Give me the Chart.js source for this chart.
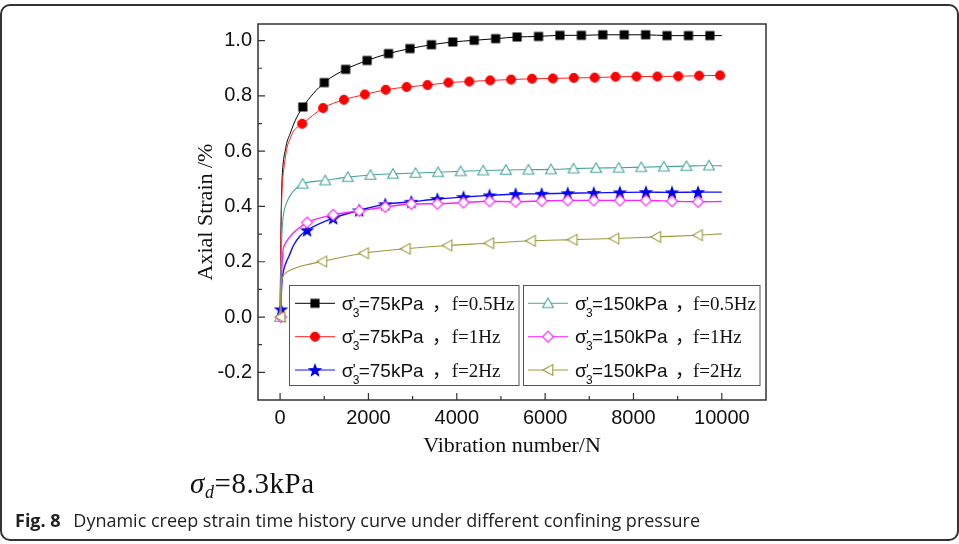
<!DOCTYPE html>
<html lang="en">
<head>
<meta charset="UTF-8">
<title>Dynamic creep strain time history</title>
<script src="https://cdn.jsdelivr.net/npm/chart.js@4"></script>
<style>
  body { margin: 0; background: #fff; }
  .figure { position: relative; width: 959px; height: 544px; overflow: hidden; }
  .frame {
    position: absolute; left: 0; top: 4px; width: 959px; height: 537px;
    box-sizing: border-box; border: 2px solid #333; border-radius: 10px;
  }
  #chart { position: absolute; left: 0; top: 0; }
  .sigma-d {
    position: absolute; left: 190px; top: 467px; white-space: nowrap;
    font-family: 'Liberation Serif', serif; font-size: 29px; line-height: 32px;
    letter-spacing: 0.6px; color: #111;
  }
  .sigma-d sub { font-size: 18px; vertical-align: -5px; }
  .caption {
    position: absolute; left: 15px; top: 509px; white-space: nowrap;
    font-family: 'Open Sans', sans-serif; font-size: 18px; line-height: 22px; color: #222;
  }
  .caption b { margin-right: 8px; }
</style>
</head>
<body>
<div class="figure">
  <div class="frame"></div>
  <canvas id="chart" width="959" height="544"></canvas>
  <div class="sigma-d"><i>σ</i><sub><i>d</i></sub>=8.3kPa</div>
  <div class="caption"><b>Fig. 8</b> Dynamic creep strain time history curve under different confining pressure</div>
</div>
<script>
// axis ticks
const xTicks = [0, 2000, 4000, 6000, 8000, 10000];
const xMinorTicks = [1000, 3000, 5000, 7000, 9000];
const yTicks = [-0.2, 0, 0.2, 0.4, 0.6, 0.8, 1.0];
const yMinorTicks = [-0.1, 0.1, 0.3, 0.5, 0.7, 0.9];

// sigma'3 = 75 kPa, f = 0.5 Hz
const blackCurveN = [0, 15, 30, 45, 60, 80, 113, 160, 227, 300, 380, 10000];
const blackCurveV = [0, 0.25, 0.42, 0.50, 0.54, 0.57, 0.60, 0.635, 0.663, 0.695, 0.723, 1.018];
const blackMarkN = [515, 1000, 1485, 1970, 2455, 2940, 3425, 3910, 4395, 4880, 5365, 5850, 6335, 6820, 7305, 7790, 8275, 8760, 9245, 9730];
const blackMarkV = [0.760, 0.848, 0.896, 0.928, 0.953, 0.971, 0.985, 0.995, 1.001, 1.007, 1.013, 1.015, 1.019, 1.019, 1.021, 1.021, 1.021, 1.018, 1.018, 1.018];

// sigma'3 = 75 kPa, f = 1 Hz
const redCurveN = [0, 15, 30, 45, 60, 80, 113, 152, 227, 302, 400, 10000];
const redCurveV = [0, 0.22, 0.38, 0.46, 0.50, 0.53, 0.57, 0.61, 0.645, 0.672, 0.688, 0.874];
const redMarkN = [499, 972, 1445, 1918, 2391, 2864, 3337, 3810, 4283, 4756, 5229, 5702, 6175, 6648, 7121, 7594, 8067, 8540, 9013, 9486, 9959];
const redMarkV = [0.699, 0.756, 0.786, 0.805, 0.822, 0.832, 0.839, 0.848, 0.852, 0.856, 0.859, 0.862, 0.863, 0.865, 0.866, 0.869, 0.870, 0.870, 0.871, 0.873, 0.874];

// sigma'3 = 75 kPa, f = 2 Hz
const blueCurveN = [30, 50, 80, 130, 200, 300, 450, 10000];
const blueCurveV = [0.09, 0.14, 0.17, 0.195, 0.22, 0.258, 0.293, 0.452];
const blueMarkN = [22, 612, 1202, 1792, 2382, 2972, 3562, 4152, 4742, 5332, 5922, 6512, 7102, 7692, 8282, 8872, 9462];
const blueMarkV = [0.028, 0.314, 0.358, 0.386, 0.408, 0.417, 0.427, 0.434, 0.440, 0.445, 0.446, 0.448, 0.449, 0.451, 0.452, 0.451, 0.452];

// sigma'3 = 150 kPa, f = 0.5 Hz
const tealCurveN = [15, 38, 61, 100, 152, 230, 330, 420, 10000];
const tealCurveV = [0.15, 0.29, 0.35, 0.39, 0.415, 0.44, 0.46, 0.472, 0.547];
const tealMarkN = [0, 511, 1022, 1533, 2044, 2555, 3066, 3577, 4088, 4599, 5110, 5621, 6132, 6643, 7154, 7665, 8176, 8687, 9198, 9709];
const tealMarkV = [0, 0.482, 0.494, 0.506, 0.514, 0.518, 0.521, 0.524, 0.527, 0.530, 0.532, 0.533, 0.534, 0.537, 0.539, 0.540, 0.542, 0.544, 0.546, 0.548];

// sigma'3 = 150 kPa, f = 1 Hz
const pinkCurveN = [30, 45, 65, 100, 152, 220, 302, 450, 10000];
const pinkCurveV = [0.12, 0.19, 0.24, 0.26, 0.275, 0.29, 0.305, 0.325, 0.418];
const pinkMarkN = [22, 612, 1202, 1792, 2382, 2972, 3562, 4152, 4742, 5332, 5922, 6512, 7102, 7692, 8282, 8872, 9462];
const pinkMarkV = [0, 0.342, 0.370, 0.384, 0.398, 0.409, 0.410, 0.414, 0.419, 0.417, 0.420, 0.422, 0.422, 0.422, 0.422, 0.419, 0.417];

// sigma'3 = 150 kPa, f = 2 Hz
const oliveCurveN = [15, 40, 100, 227, 400, 600, 10000];
const oliveCurveV = [0.10, 0.135, 0.155, 0.169, 0.18, 0.189, 0.301];
const oliveMarkN = [0, 945, 1890, 2835, 3780, 4725, 5670, 6615, 7560, 8505, 9450];
const oliveMarkV = [0, 0.201, 0.231, 0.247, 0.259, 0.267, 0.276, 0.280, 0.284, 0.290, 0.296];

const legendPressure = ['75kPa', '75kPa', '75kPa', '150kPa', '150kPa', '150kPa'];
const legendFreq = ['f=0.5Hz', 'f=1Hz', 'f=2Hz', 'f=0.5Hz', 'f=1Hz', 'f=2Hz'];

// small canvases used as point styles
function makeMarker(shape, stroke, fill) {
  const c = document.createElement('canvas');
  c.width = 14; c.height = 14;
  const g = c.getContext('2d');
  g.fillStyle = fill;
  g.strokeStyle = stroke;
  g.lineWidth = 1.1;
  g.beginPath();
  if (shape === 'square') {
    g.rect(3, 3, 8, 8);
  } else if (shape === 'circle') {
    g.arc(7, 7, 4.4, 0, Math.PI * 2);
  } else if (shape === 'star') {
    for (let i = 0; i < 10; i++) {
      const r = i % 2 ? 2.5 : 6;
      const t = -Math.PI / 2 + i * Math.PI / 5;
      g.lineTo(7 + r * Math.cos(t), 7.6 + r * Math.sin(t));
    }
    g.closePath();
  } else if (shape === 'triangle') {
    g.moveTo(7, 1.8); g.lineTo(12.4, 11.2); g.lineTo(1.6, 11.2); g.closePath();
  } else if (shape === 'diamond') {
    g.moveTo(7, 1.5); g.lineTo(12.5, 7); g.lineTo(7, 12.5); g.lineTo(1.5, 7); g.closePath();
  } else if (shape === 'leftTriangle') {
    g.moveTo(2, 7); g.lineTo(11.8, 1.6); g.lineTo(11.8, 12.4); g.closePath();
  }
  g.fill();
  g.stroke();
  return c;
}

const series = [
  { color: '#000000', width: 1, marker: makeMarker('square', '#000', '#000'), curveN: blackCurveN, curveV: blackCurveV, markN: blackMarkN, markV: blackMarkV },
  { color: '#ff2020', width: 1, marker: makeMarker('circle', '#ff0000', '#ff0000'), curveN: redCurveN, curveV: redCurveV, markN: redMarkN, markV: redMarkV },
  { color: '#1010ff', width: 1.4, marker: makeMarker('star', '#0000ee', '#0000ee'), curveN: blueCurveN, curveV: blueCurveV, markN: blueMarkN, markV: blueMarkV },
  { color: '#45a59d', width: 1.1, marker: makeMarker('triangle', '#45a59d', '#ffffff'), curveN: tealCurveN, curveV: tealCurveV, markN: tealMarkN, markV: tealMarkV },
  { color: '#ff20ff', width: 1.4, marker: makeMarker('diamond', '#ff30ff', '#ffffff'), curveN: pinkCurveN, curveV: pinkCurveV, markN: pinkMarkN, markV: pinkMarkV },
  { color: '#9a9a3c', width: 1.1, marker: makeMarker('leftTriangle', '#9a9a3c', '#ffffff'), curveN: oliveCurveN, curveV: oliveCurveV, markN: oliveMarkN, markV: oliveMarkV }
];

function buildPoints(s) {
  const pts = s.curveN.map((n, i) => ({ x: n, y: s.curveV[i], mark: false }))
    .concat(s.markN.map((n, i) => ({ x: n, y: s.markV[i], mark: true })));
  return pts.sort((p, q) => p.x - q.x);
}

const datasets = series.map((s, i) => ({
  data: buildPoints(s),
  borderColor: s.color,
  borderWidth: s.width,
  pointStyle: s.marker,
  pointRadius: c => (c.raw && c.raw.mark ? 5 : 0),
  pointHoverRadius: 0,
  cubicInterpolationMode: 'monotone',
  order: series.length - i
}));

// axis box with inward ticks, plus the two-box legend
const axesAndLegend = {
  id: 'axesAndLegend',
  afterDatasetsDraw(chart) {
    const { ctx, chartArea: a, scales: { x, y } } = chart;
    ctx.save();
    ctx.strokeStyle = '#333';
    ctx.lineWidth = 1.5;
    ctx.strokeRect(a.left, a.top, a.right - a.left, a.bottom - a.top);

    ctx.lineWidth = 1.2;
    ctx.beginPath();
    xTicks.forEach(v => { const p = x.getPixelForValue(v); ctx.moveTo(p, a.bottom); ctx.lineTo(p, a.bottom - 7); });
    xMinorTicks.forEach(v => { const p = x.getPixelForValue(v); ctx.moveTo(p, a.bottom); ctx.lineTo(p, a.bottom - 4); });
    yTicks.forEach(v => { const p = y.getPixelForValue(v); ctx.moveTo(a.left, p); ctx.lineTo(a.left + 7, p); });
    yMinorTicks.forEach(v => { const p = y.getPixelForValue(v); ctx.moveTo(a.left, p); ctx.lineTo(a.left + 4, p); });
    ctx.stroke();

    // legend boxes
    const boxes = [
      { left: 289.5, right: 519, lineX: 295, textX: 341.7, commaX: 432 },
      { left: 523.5, right: 760, lineX: 528, textX: 575, commaX: 675 }
    ];
    const top = 285.5, bottom = 385.5;
    const rowY = [303.3, 336.7, 370];
    boxes.forEach((b, bi) => {
      ctx.fillStyle = '#fff';
      ctx.fillRect(b.left, top, b.right - b.left, bottom - top);
      ctx.strokeStyle = '#555';
      ctx.lineWidth = 1;
      ctx.strokeRect(b.left, top, b.right - b.left, bottom - top);
      for (let r = 0; r < 3; r++) {
        const k = bi * 3 + r;
        const s = series[k];
        const cy = rowY[r];
        ctx.strokeStyle = s.color;
        ctx.lineWidth = 1;
        ctx.beginPath();
        ctx.moveTo(b.lineX, cy);
        ctx.lineTo(b.lineX + 40, cy);
        ctx.stroke();
        ctx.drawImage(s.marker, b.lineX + 20 - 7, cy - 7);

        const base = cy + 6.7;
        ctx.fillStyle = '#111';
        ctx.textAlign = 'left';
        ctx.textBaseline = 'alphabetic';
        ctx.font = '19px "Liberation Sans", Arial, sans-serif';
        ctx.fillText('σ', b.textX, base);
        ctx.font = '15px "Liberation Sans", Arial, sans-serif';
        ctx.fillText("'", b.textX + 11, base - 3);
        ctx.font = '12px "Liberation Sans", Arial, sans-serif';
        ctx.fillText('3', b.textX + 11, base + 7);
        ctx.font = '19px "Liberation Sans", Arial, sans-serif';
        ctx.fillText('=' + legendPressure[k], b.textX + 17, base);
        ctx.font = '19px "Noto Sans CJK SC", sans-serif';
        ctx.fillText('，', b.commaX, base);
        ctx.font = '19px "Liberation Serif", "Times New Roman", serif';
        ctx.fillText(legendFreq[k], b.textX + 110 + (bi ? 8 : 0), base);
      }
    });
    ctx.restore();
  }
};

new Chart(document.getElementById('chart'), {
  type: 'line',
  data: { datasets },
  options: {
    responsive: false,
    animation: false,
    events: [],
    layout: { padding: { left: 180, top: 24, right: 193, bottom: 84 } },
    plugins: { legend: { display: false }, tooltip: { enabled: false } },
    scales: {
      x: {
        type: 'linear',
        min: -500,
        max: 11000,
        afterBuildTicks: s => { s.ticks = xTicks.map(v => ({ value: v })); },
        afterFit: s => { s.height = 60; },
        grid: { display: false, drawTicks: false },
        border: { display: false },
        ticks: {
          autoSkip: false, maxRotation: 0, padding: 6, color: '#111',
          font: { family: 'Liberation Sans', size: 20 },
          callback: v => String(v)
        },
        title: {
          display: true, text: 'Vibration number/N', color: '#111',
          font: { family: 'Liberation Serif', size: 22 },
          padding: { top: 0, bottom: 1 }
        }
      },
      y: {
        type: 'linear',
        min: -0.3,
        max: 1.06,
        afterBuildTicks: s => { s.ticks = yTicks.map(v => ({ value: v })); },
        afterFit: s => { s.width = 78; },
        grid: { display: false, drawTicks: false },
        border: { display: false },
        ticks: {
          autoSkip: false, padding: 6, color: '#111',
          font: { family: 'Liberation Sans', size: 20 },
          callback: v => v.toFixed(1)
        },
        title: {
          display: true, text: 'Axial Strain /%', color: '#111',
          font: { family: 'Liberation Serif', size: 22 },
          padding: { top: 13, bottom: 0 }
        }
      }
    }
  },
  plugins: [axesAndLegend]
});
</script>
</body>
</html>
